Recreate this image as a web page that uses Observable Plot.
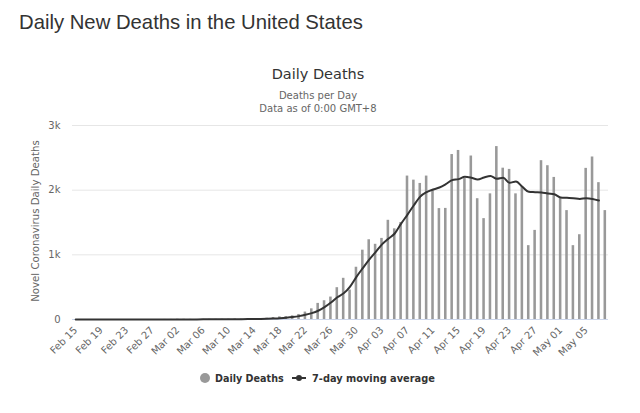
<!DOCTYPE html>
<html><head><meta charset="utf-8">
<script src="https://cdn.jsdelivr.net/npm/d3@7"></script>
<script src="https://cdn.jsdelivr.net/npm/@observablehq/plot@0.6"></script>
<style>
body{margin:0;background:#fff;}
#wrap{position:relative;width:640px;height:413px;overflow:hidden;font-family:"DejaVu Sans",sans-serif;background:#fff;}
.t{position:absolute;white-space:nowrap;}
#chart{position:absolute;left:0;top:115px;}
#legend{position:absolute;left:0;top:364px;}
</style></head><body>
<div id="wrap">
  <div class="t" style="left:19px;top:11px;font-family:'Liberation Sans',Arial,sans-serif;font-size:20.3px;color:#333;">Daily New Deaths in the United States</div>
  <div class="t" style="left:0;width:636px;text-align:center;top:66px;font-size:14.5px;color:#333;">Daily Deaths</div>
  <div class="t" style="left:0;width:636px;text-align:center;top:90px;font-size:10px;color:#666;">Deaths per Day</div>
  <div class="t" style="left:0;width:636px;text-align:center;top:103px;font-size:10px;color:#666;">Data as of 0:00 GMT+8</div>
  <div class="t" style="left:35px;top:221px;font-size:10.2px;color:#666;transform:translate(-50%,-50%) rotate(-90deg);">Novel Coronavirus Daily Deaths</div>
  <div id="chart"></div>
  <svg id="legend" width="640" height="30"></svg>
</div>
<script>
// Categories: consecutive days Feb 15 – May 8 (2020)
const firstDay = "2020-02-15";
const lastDay = "2020-05-08";
// Daily deaths
const dailyDeaths = [
  0,0,0,0,0,0,0,0,0,0,0,0,0,0,
  1,1,4,3,2,1,2,3,3,4,5,8,7,11,8,12,20,
  31,41,45,57,78,115,165,249,290,347,492,637,455,808,1072,
  1233,1163,1254,1534,1402,1500,2218,2155,2104,2218,1995,1715,1718,2551,2614,
  2181,2528,1868,1560,1943,2674,2340,2321,1943,2047,1142,1378,2456,2378,2197,
  1886,1684,1142,1311,2337,2513,2116,1684
];
// 7-day moving average (no value on the last day)
const movingAvg = [
  0,0,0,0,0,0,0,0,0,0,0,0,0,0,
  0.1,0.3,0.9,1.3,1.6,1.9,2.1,2.3,2.6,3,3.6,4.4,5.4,6.6,8.1,9.6,12,
  16,21,28,38,52,72,98,135,190,262,345,405,510,660,795,
  925,1041,1161,1249,1330,1482,1622,1767,1900,1970,2010,2041,2093,2155,2171,
  2207,2192,2166,2197,2218,2176,2192,2114,2135,2052,1974,1969,1964,1948,1938,
  1886,1881,1876,1865,1876,1865,1839,null
];
const yTicks = [0, 1000, 2000, 3000];
const gridValues = [1000, 2000, 3000];

const fmt = d3.utcFormat("%b %d");
const days = d3.utcDay.range(new Date(firstDay), d3.utcDay.offset(new Date(lastDay), 1));
const labels = days.map(fmt);
const rows = labels.map((d, i) => ({date: d, deaths: dailyDeaths[i], avg: movingAvg[i]}));
const xTicks = labels.filter((d, i) => i % 4 === 0);

const chart = Plot.plot({
  width: 640,
  height: 250,
  marginLeft: 72,
  marginRight: 32,
  marginTop: 10,
  marginBottom: 46,
  style: {fontFamily: "DejaVu Sans, sans-serif", fontSize: "10px", color: "#666", background: "transparent", overflow: "visible"},
  x: {type: "band", domain: labels, paddingInner: 0.6, paddingOuter: 0.3, ticks: xTicks, tickRotate: -45, tickSize: 0, tickPadding: 9, label: null},
  y: {domain: [0, 3000], ticks: yTicks, tickFormat: d => d === 0 ? "0" : (d / 1000) + "k", tickSize: 0, tickPadding: 12, label: null},
  marks: [
    Plot.ruleY(gridValues, {stroke: "#e6e6e6"}),
    Plot.ruleY([0], {stroke: "#ccd6eb"}),
    Plot.barY(rows, {x: "date", y: "deaths", fill: "#999"}),
    Plot.line(rows.filter(d => d.avg != null), {x: "date", y: "avg", stroke: "#333", strokeWidth: 2, curve: "monotone-x"})
  ]
});
document.getElementById("chart").appendChild(chart);

// Legend
const lg = d3.select("#legend");
lg.append("circle").attr("cx", 205).attr("cy", 14).attr("r", 5).attr("fill", "#999");
lg.append("text").attr("x", 215).attr("y", 18).text("Daily Deaths")
  .attr("font-family", "DejaVu Sans").attr("font-size", 9.6).attr("font-weight", "bold").attr("fill", "#333");
lg.append("line").attr("x1", 292).attr("x2", 306).attr("y1", 14).attr("y2", 14).attr("stroke", "#333").attr("stroke-width", 2);
lg.append("circle").attr("cx", 299).attr("cy", 14).attr("r", 3).attr("fill", "#333");
lg.append("text").attr("x", 312).attr("y", 18).text("7-day moving average")
  .attr("font-family", "DejaVu Sans").attr("font-size", 9.8).attr("font-weight", "bold").attr("fill", "#333");
</script>
</body></html>
